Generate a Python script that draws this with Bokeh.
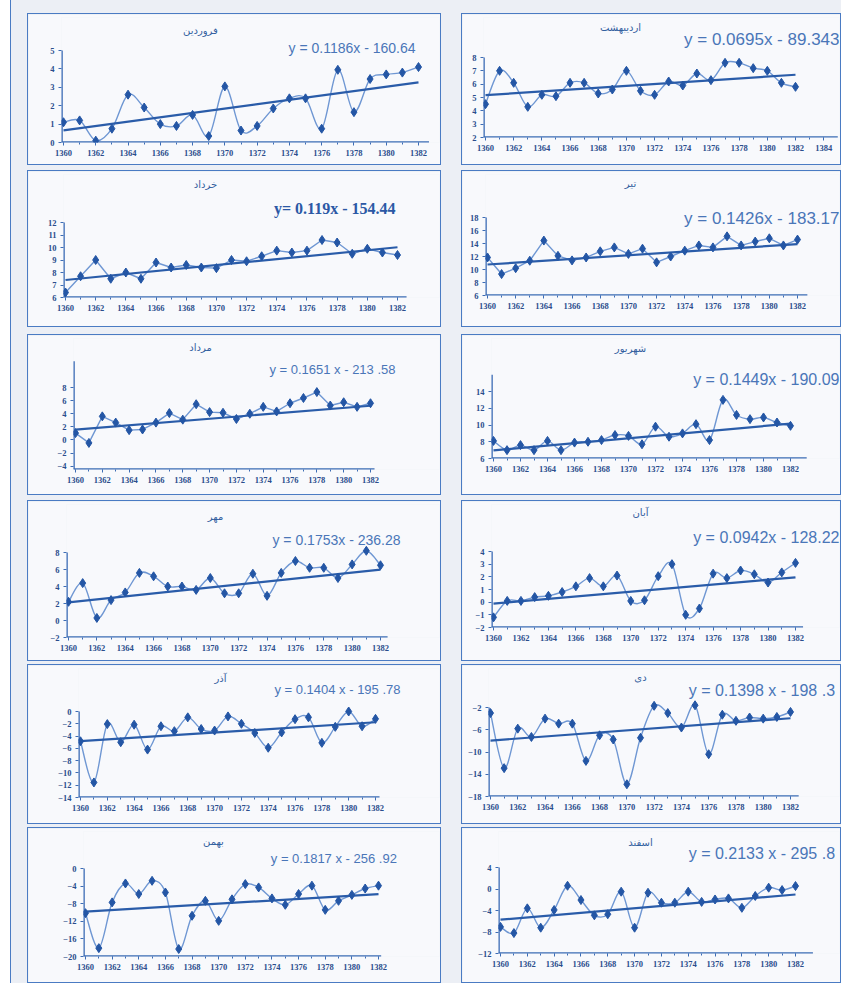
import numpy as np
from bokeh.plotting import figure
from bokeh.models import Label, FixedTicker, Range1d
from bokeh.layouts import row, column
from bokeh.embed import file_html
from bokeh.resources import INLINE

years = list(range(1360, 1383))

month_titles = ["فروردین", "اردیبهشت", "خرداد", "تیر", "مرداد", "شهریور",
                "مهر", "آبان", "آذر", "دی", "بهمن", "اسفند"]

farvardin = [1.1, 1.2, 0.1, 0.75, 2.6, 1.9, 1.0, 0.9, 1.5, 0.35, 3.05, 0.65, 0.9, 1.85, 2.4, 2.4, 0.75, 3.95, 1.65, 3.45, 3.7, 3.8, 4.1]
ordibehesht = [4.5, 7.0, 6.1, 4.3, 5.2, 5.1, 6.1, 6.1, 5.3, 5.6, 7.0, 5.5, 5.2, 6.2, 5.9, 6.8, 6.3, 7.6, 7.6, 7.2, 7.0, 6.1, 5.8]
khordad = [6.4, 7.7, 9.0, 7.5, 8.0, 7.5, 8.8, 8.4, 8.6, 8.4, 8.35, 9.0, 8.9, 9.3, 9.75, 9.6, 9.75, 10.6, 10.4, 9.5, 9.9, 9.6, 9.4]
tir = [11.85, 9.3, 10.2, 11.35, 14.45, 12.1, 11.4, 11.85, 12.8, 13.4, 12.4, 13.2, 11.1, 12.0, 12.9, 13.7, 13.4, 15.1, 13.7, 14.3, 14.8, 13.7, 14.6]
mordad = [1.05, -0.45, 3.6, 2.65, 1.5, 1.6, 2.65, 4.1, 3.1, 5.45, 4.25, 4.15, 3.2, 4.0, 5.05, 4.35, 5.6, 6.4, 7.3, 5.25, 5.75, 5.05, 5.6]
shahrivar = [8.1, 7.0, 7.6, 7.0, 8.1, 7.0, 7.9, 8.0, 8.2, 8.8, 8.7, 7.7, 9.8, 8.6, 9.0, 10.1, 8.2, 13.0, 11.2, 10.7, 10.9, 10.3, 9.9]
mehr = [2.2, 4.4, 0.3, 2.4, 3.3, 5.6, 5.2, 4.0, 4.0, 3.6, 5.0, 3.2, 3.2, 5.5, 2.9, 5.6, 7.0, 6.2, 6.2, 5.0, 6.6, 8.2, 6.5]
aban = [-1.2, 0.1, 0.1, 0.4, 0.5, 0.8, 1.25, 1.9, 1.25, 2.1, 0.1, 0.15, 2.05, 3.0, -1.0, -0.5, 2.25, 1.9, 2.5, 2.2, 1.55, 2.35, 3.1]
azar = [-4.85, -11.55, -2.05, -5.0, -2.15, -6.2, -2.4, -3.2, -0.95, -2.85, -3.1, -0.8, -2.0, -3.5, -5.9, -3.4, -1.25, -0.95, -5.1, -2.5, 0.0, -2.4, -1.2]
dey = [-3.0, -12.9, -5.8, -7.3, -4.0, -4.9, -4.9, -11.6, -7.0, -7.75, -15.8, -7.45, -1.7, -3.0, -5.6, -1.6, -10.4, -3.3, -4.4, -3.8, -4.0, -3.7, -2.8]
bahman = [-10.15, -18.1, -7.7, -3.4, -5.8, -2.8, -5.45, -18.3, -10.75, -7.35, -11.9, -7.0, -3.55, -4.3, -6.8, -8.25, -5.8, -3.9, -9.4, -7.35, -6.0, -4.55, -3.9]
esfand = [-7.05, -8.2, -3.6, -7.2, -3.9, 0.6, -2.05, -4.9, -4.7, -0.5, -7.2, -0.7, -2.55, -2.55, -0.5, -2.4, -1.95, -1.75, -3.5, -1.3, 0.25, -0.2, 0.55]

series = [farvardin, ordibehesht, khordad, tir, mordad, shahrivar,
          mehr, aban, azar, dey, bahman, esfand]

# printed trend equations, and the trend lines as they are drawn in the chart
equations = ["y = 0.1186x - 160.64", "y = 0.0695x - 89.343", "y= 0.119x - 154.44",
             "y = 0.1426x - 183.17", "y = 0.1651 x - 213 .58", "y = 0.1449x - 190.09",
             "y = 0.1753x - 236.28", "y = 0.0942x - 128.22", "y = 0.1404 x - 195 .78",
             "y = 0.1398  x - 198 .3", "y = 0.1817  x - 256 .92", "y = 0.2133  x - 295 .8"]
trend_slopes = [0.1186, 0.0695, 0.119, 0.1426, 0.1651, 0.1449, 0.1753, 0.0942, 0.1404, 0.1823, 0.1817, 0.2133]
trend_intercepts = [-160.64, -89.343, -154.44, -183.17, -222.95, -190.09, -236.28, -128.22, -195.78, -255.87, -256.92, -295.8]

# y axis: (lowest tick, highest tick, step), value on the x axis, top of the axis line
y_axes = [(0, 5, 1), (2, 8, 1), (6, 12, 1), (6, 18, 2), (-4, 8, 2), (6, 14, 2),
          (-2, 8, 2), (-2, 4, 1), (-14, 0, 2), (-18, -2, 4), (-20, 0, 4), (-12, 4, 4)]
x_axis_value = [0, 2, 6, 6, -4.5, 6, -2, -2, -14, -18, -20, -12]
y_line_top = [5, 8, 12, 18, 12, 16, 8, 4, 0, -2, 0, 4]
x_last_tick = [1382, 1384, 1382, 1382, 1382, 1382, 1382, 1382, 1382, 1382, 1382, 1382]
x_axis_end = [1382.65, 1385.0, 1382.6, 1382.7, 1382.3, 1383.2, 1382.5, 1382.55, 1382.3, 1382.6, 1382.2, 1383.3]
smooth = [True, True, False, False, False, True, True, True, True, True, True, True]

# ---------- geometry / styling ----------
LEFT_W, RIGHT_W = 414, 380
row_heights = [152, 157, 161, 161, 160, 156]
row_top_gap = [13, 5, 7, 5, 3, 3]

first_px = [35, 23, 37, 25, 47, 31, 40, 31, 52, 28, 57, 38]        # x of 1360, from box left
last_px = [390, 333, 369, 335, 342, 328, 352, 333, 347, 328, 350, 333]  # x of 1382
hi_tick_px = [36, 43, 51, 46, 52, 56, 51, 50, 46, 42, 40, 39]       # y of top tick, from box top
x_axis_px = [128, 123, 126, 124, 134, 123, 136, 126, 132, 131, 128, 125]  # y of x axis, from box top
title_pos = [(16, 172), (13, 158), (13, 177), (12, 168), (12, 172), (13, 168),
             (15, 187), (11, 178), (13, 192), (12, 178), (13, 185), (14, 178)]
eq_pos = [(33, 387, 14), (25, 377, 17), (37, 367, 16), (47, 377, 17), (34, 367, 13), (44, 377, 16),
          (38, 372, 14), (36, 377, 16), (24, 372, 13), (25, 377, 16), (30, 372, 13), (25, 377, 16)]

LINE_C = "#6f97d3"
MARK_C = "#2456a5"
TREND_C = "#2a5ca9"
AXIS_C = "#3d6cb5"
TICK_C = "#2b4d8c"
EQ_C = "#4a76b8"
BOX_C = "#4a7bc3"
BG = "#f8f9fc"


def make_panel(i, W, H):
    ys = series[i]
    lo, hi, step = y_axes[i]
    xv = x_axis_value[i]
    bl = first_px[i] - 2
    br = 3
    bt = 3
    fb = x_axis_px[i]
    bb = H - fb
    upp = (hi - xv) / (fb - hi_tick_px[i])
    y0r = xv
    y1r = hi + (hi_tick_px[i] - bt) * upp
    ppy = (last_px[i] - first_px[i]) / 22.0
    x0r = 1360 - 2.0 / ppy
    x1r = x0r + (W - br - bl) / ppy

    p = figure(width=W, height=H, title=None, output_backend="svg", toolbar_location=None,
               x_range=Range1d(x0r, x1r), y_range=Range1d(y0r, y1r),
               min_border_left=bl, min_border_right=br, min_border_top=bt, min_border_bottom=bb,
               background_fill_color=BG, border_fill_color=BG, outline_line_color=None,
               styles={"border": "1.5px solid " + BOX_C})
    p.xgrid.visible = False
    p.ygrid.visible = False

    xt = list(range(1360, x_last_tick[i] + 1, 2))
    p.xaxis.ticker = FixedTicker(ticks=xt, minor_ticks=list(range(1360, x_last_tick[i] + 1)))
    p.yaxis.ticker = FixedTicker(ticks=list(np.arange(lo, hi + step / 2, step)))
    for ax in (p.xaxis[0], p.yaxis[0]):
        ax.axis_line_color = None
        ax.major_tick_line_color = AXIS_C
        ax.minor_tick_line_color = AXIS_C
        ax.major_tick_in = 0
        ax.major_tick_out = 3
        ax.minor_tick_in = 0
        ax.minor_tick_out = 2
        ax.major_label_text_font = "Liberation Serif"
        ax.major_label_text_font_style = "bold"
        ax.major_label_text_font_size = "8.5px"
        ax.major_label_text_color = TICK_C
        ax.major_label_standoff = 4
    p.yaxis.minor_tick_line_color = None
    # axis lines lie on the frame edges, so half of their width shows
    p.segment(x0=[x0r], y0=[y0r], x1=[x0r], y1=[y_line_top[i]], line_color=AXIS_C, line_width=2.6)
    p.segment(x0=[x0r], y0=[y0r], x1=[x_axis_end[i]], y1=[y0r], line_color=AXIS_C, line_width=2.6)

    xs = np.array(years, dtype=float)
    yv = np.array(ys, dtype=float)
    if smooth[i]:
        n = len(xs)
        xp = np.concatenate([[xs[0]], xs, [xs[-1]]])
        yp = np.concatenate([[yv[0]], yv, [yv[-1]]])
        cx0 = xs[:-1] + (xp[2:n + 1] - xp[0:n - 1]) / 6.0
        cy0 = yv[:-1] + (yp[2:n + 1] - yp[0:n - 1]) / 6.0
        cx1 = xs[1:] - (xp[3:n + 2] - xp[1:n]) / 6.0
        cy1 = yv[1:] - (yp[3:n + 2] - yp[1:n]) / 6.0
        p.bezier(x0=xs[:-1], y0=yv[:-1], x1=xs[1:], y1=yv[1:],
                 cx0=cx0, cy0=cy0, cx1=cx1, cy1=cy1, line_color=LINE_C, line_width=1.4)
    else:
        p.line(xs, yv, line_color=LINE_C, line_width=1.4)

    tx = np.array([years[0], years[-1]], dtype=float)
    p.line(tx, trend_slopes[i] * tx + trend_intercepts[i], line_color=TREND_C, line_width=2.2)
    p.scatter(xs, yv, marker="diamond", size=9, fill_color=MARK_C, line_color=MARK_C)

    fw = W - bl - br
    fh = fb - bt

    def to_data(px, py):
        dx = x0r + (px - bl) / fw * (x1r - x0r)
        dy = y1r - (py - bt) / fh * (y1r - y0r)
        return dx, dy

    ty, tx_px = title_pos[i]
    tdx, tdy = to_data(tx_px, ty)
    p.add_layout(Label(x=tdx, y=tdy, text=month_titles[i], text_align="center",
                       text_baseline="middle", text_font="DejaVu Sans",
                       text_font_size="10px", text_color="#33609f"))

    ey, ex_px, efs = eq_pos[i]
    edx, edy = to_data(ex_px, ey)
    bold = (i == 2)
    p.add_layout(Label(x=edx, y=edy, text=equations[i], text_align="right",
                       text_baseline="middle",
                       text_font="Liberation Serif" if bold else "Liberation Sans",
                       text_font_style="bold" if bold else "normal",
                       text_font_size=f"{efs}px",
                       text_color="#2b58a5" if bold else EQ_C))
    return p


rows = []
for r in range(6):
    H = row_heights[r]
    pl = make_panel(2 * r, LEFT_W, H)
    pr = make_panel(2 * r + 1, RIGHT_W, H)
    rows.append(row(column(pl), column(pr), spacing=20, margin=(row_top_gap[r], 0, 0, 16)))

layout = column(*rows, margin=(0, 0, 0, 10),
                styles={"background-color": "#eceff5", "border-left": "1.5px solid " + BOX_C})

open("out.html", "w").write(file_html(layout, INLINE))
